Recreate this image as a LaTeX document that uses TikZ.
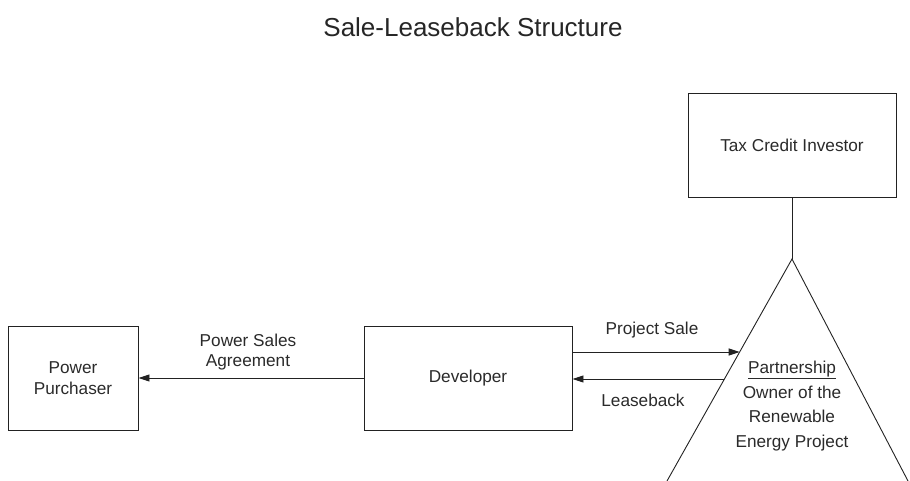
\documentclass[tikz,border=0pt]{standalone}
\usepackage{fontspec}
\setmainfont{Liberation Sans}
\usetikzlibrary{arrows.meta,calc}
\definecolor{inkgray}{HTML}{222222}
\definecolor{textgray}{HTML}{2A2A2A}
\begin{document}
\begin{tikzpicture}[x=1pt,y=-1pt,
    box/.style={draw=inkgray, line width=0.9pt, rectangle, minimum height=104pt, align=center,
                text=textgray, font=\fontsize{17.2}{20.5}\selectfont},
    lbl/.style={text=textgray, align=center, font=\fontsize{17.2}{20.5}\selectfont},
    link/.style={draw=inkgray, line width=0.9pt},
    flow/.style={link, -{Triangle[length=11pt,width=7pt]}}]
   \useasboundingbox (0,0) rectangle (910,481);
   \clip (0,0) rectangle (910,481);

   % Title
   \node[text=black!85, font=\fontsize{26}{30}\selectfont] (title) at (473,27) {Sale-Leaseback Structure};

   % Boxes
   \node[box, minimum width=208pt] (investor) at (792,145) {Tax Credit Investor};
   \node[box, minimum width=208pt] (developer) at (468,378) {Developer};
   \node[box, minimum width=130pt] (purchaser) at (73,378) {Power\\Purchaser};

   % Partnership triangle (base runs off the bottom)
   \coordinate (apex) at (792,259);
   \coordinate (baseL) at (667,481);
   \coordinate (baseR) at (908,481);
   \draw[link] (baseL) -- (apex) -- (baseR);
   \draw[link] (investor.south) -- (apex);
   \node[lbl, font=\fontsize{17.2}{24.5}\selectfont] (partnership) at (792,406)
        {\underline{Partnership}\\Owner of the\\Renewable\\Energy Project};

   % Flows
   \coordinate (saleEnd) at ($(apex)!{(352-259)/222}!(baseL)$);
   \coordinate (leaseStart) at ($(apex)!{(379-259)/222}!(baseL)$);
   \draw[flow] (developer.east |- saleEnd) -- (saleEnd);
   \draw[flow] (leaseStart) -- (developer.east |- leaseStart);
   \draw[flow] (developer.west) -- (purchaser.east);

   % Flow labels
   \node[lbl] (psa) at (248,352) {Power Sales\\Agreement};
   \node[lbl] (sale) at (652,330) {Project Sale};
   \node[lbl] (lease) at (643,400) {Leaseback};
\end{tikzpicture}
\end{document}
